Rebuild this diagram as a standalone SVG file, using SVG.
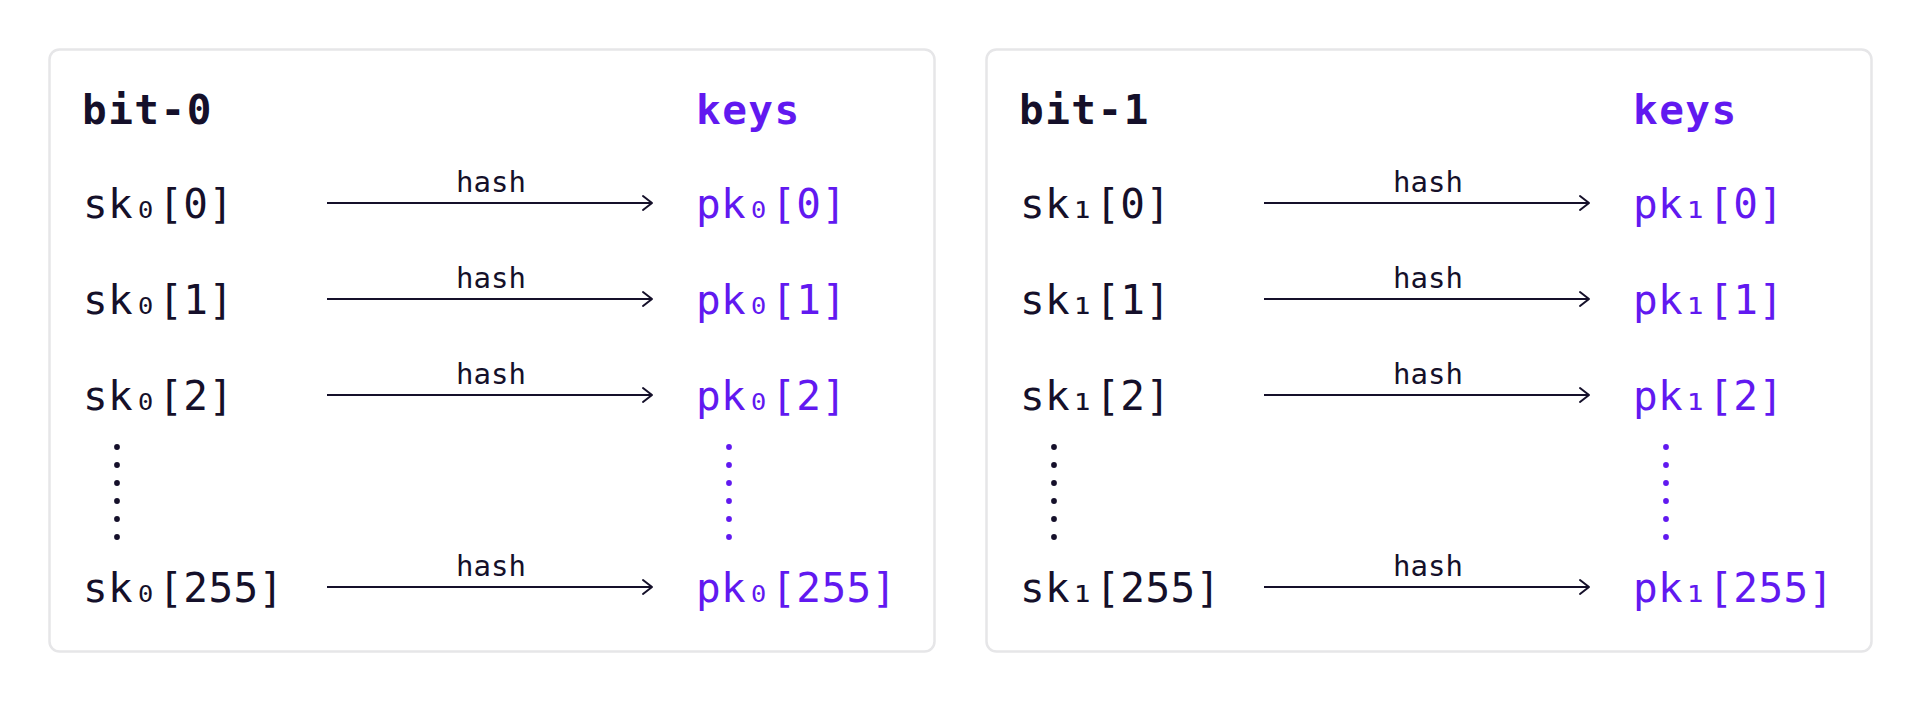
<svg xmlns="http://www.w3.org/2000/svg" width="1920" height="702" viewBox="0 0 1920 702">
<style>
.panel{fill:#ffffff;stroke:#e6e6e8;stroke-width:2.5}
.t{font-family:"DejaVu Sans Mono","Liberation Mono",monospace;font-size:41px;letter-spacing:0.4px}
.h{font-weight:bold;letter-spacing:1.5px}
.dk{fill:#15102a}
.pu{fill:#6119f0}
.lbl{font-family:"DejaVu Sans Mono","Liberation Mono",monospace;font-size:29px;fill:#15102a;text-anchor:middle}
.arr{stroke:#15102a;stroke-width:2;fill:none;marker-end:url(#ah)}
</style>
<defs>
<marker id="ah" markerUnits="userSpaceOnUse" markerWidth="14" markerHeight="18" viewBox="-12 -9 14 18" refX="0" refY="0" orient="auto">
<path d="M-9,-7 L0,0 L-9,7" fill="none" stroke="#15102a" stroke-width="2" stroke-linecap="round" stroke-linejoin="round"/>
</marker>
<g id="dotsD"><circle cx="0" cy="0" r="2.9"/><circle cx="0" cy="18" r="2.9"/><circle cx="0" cy="36" r="2.9"/><circle cx="0" cy="54" r="2.9"/><circle cx="0" cy="72" r="2.9"/><circle cx="0" cy="90" r="2.9"/></g>
</defs>
<rect width="1920" height="702" fill="#ffffff"/>

<g id="panel-bit0">
<rect class="panel" x="49.5" y="49.5" width="885" height="602" rx="10"/>
<text class="t h dk" x="82" y="124">bit-0</text>
<text class="t h pu" x="696" y="124">keys</text>
</g>
<g id="sk0">
<text class="t dk" x="83" y="218">sk₀[0]</text>
<text class="t dk" x="83" y="314">sk₀[1]</text>
<text class="t dk" x="83" y="410">sk₀[2]</text>
<g class="dk"><use href="#dotsD" x="117" y="447"/></g>
<text class="t dk" x="83" y="602">sk₀[255]</text>
</g>
<g id="pk0">
<text class="t pu" x="696" y="218">pk₀[0]</text>
<text class="t pu" x="696" y="314">pk₀[1]</text>
<text class="t pu" x="696" y="410">pk₀[2]</text>
<g class="pu"><use href="#dotsD" x="729" y="447"/></g>
<text class="t pu" x="696" y="602">pk₀[255]</text>
</g>

<g id="panel-bit1">
<rect class="panel" x="986.5" y="49.5" width="885" height="602" rx="10"/>
<text class="t h dk" x="1019" y="124">bit-1</text>
<text class="t h pu" x="1633" y="124">keys</text>
</g>
<g id="sk1">
<text class="t dk" x="1020" y="218">sk₁[0]</text>
<text class="t dk" x="1020" y="314">sk₁[1]</text>
<text class="t dk" x="1020" y="410">sk₁[2]</text>
<g class="dk"><use href="#dotsD" x="1054" y="447"/></g>
<text class="t dk" x="1020" y="602">sk₁[255]</text>
</g>
<g id="pk1">
<text class="t pu" x="1633" y="218">pk₁[0]</text>
<text class="t pu" x="1633" y="314">pk₁[1]</text>
<text class="t pu" x="1633" y="410">pk₁[2]</text>
<g class="pu"><use href="#dotsD" x="1666" y="447"/></g>
<text class="t pu" x="1633" y="602">pk₁[255]</text>
</g>

<g id="connectors">
<path class="arr" d="M327,203 H652"/>
<path class="arr" d="M327,299 H652"/>
<path class="arr" d="M327,395 H652"/>
<path class="arr" d="M327,587 H652"/>
<path class="arr" d="M1264,203 H1589"/>
<path class="arr" d="M1264,299 H1589"/>
<path class="arr" d="M1264,395 H1589"/>
<path class="arr" d="M1264,587 H1589"/>
<text class="lbl" x="491" y="192">hash</text>
<text class="lbl" x="491" y="288">hash</text>
<text class="lbl" x="491" y="384">hash</text>
<text class="lbl" x="491" y="576">hash</text>
<text class="lbl" x="1428" y="192">hash</text>
<text class="lbl" x="1428" y="288">hash</text>
<text class="lbl" x="1428" y="384">hash</text>
<text class="lbl" x="1428" y="576">hash</text>
</g>
</svg>
